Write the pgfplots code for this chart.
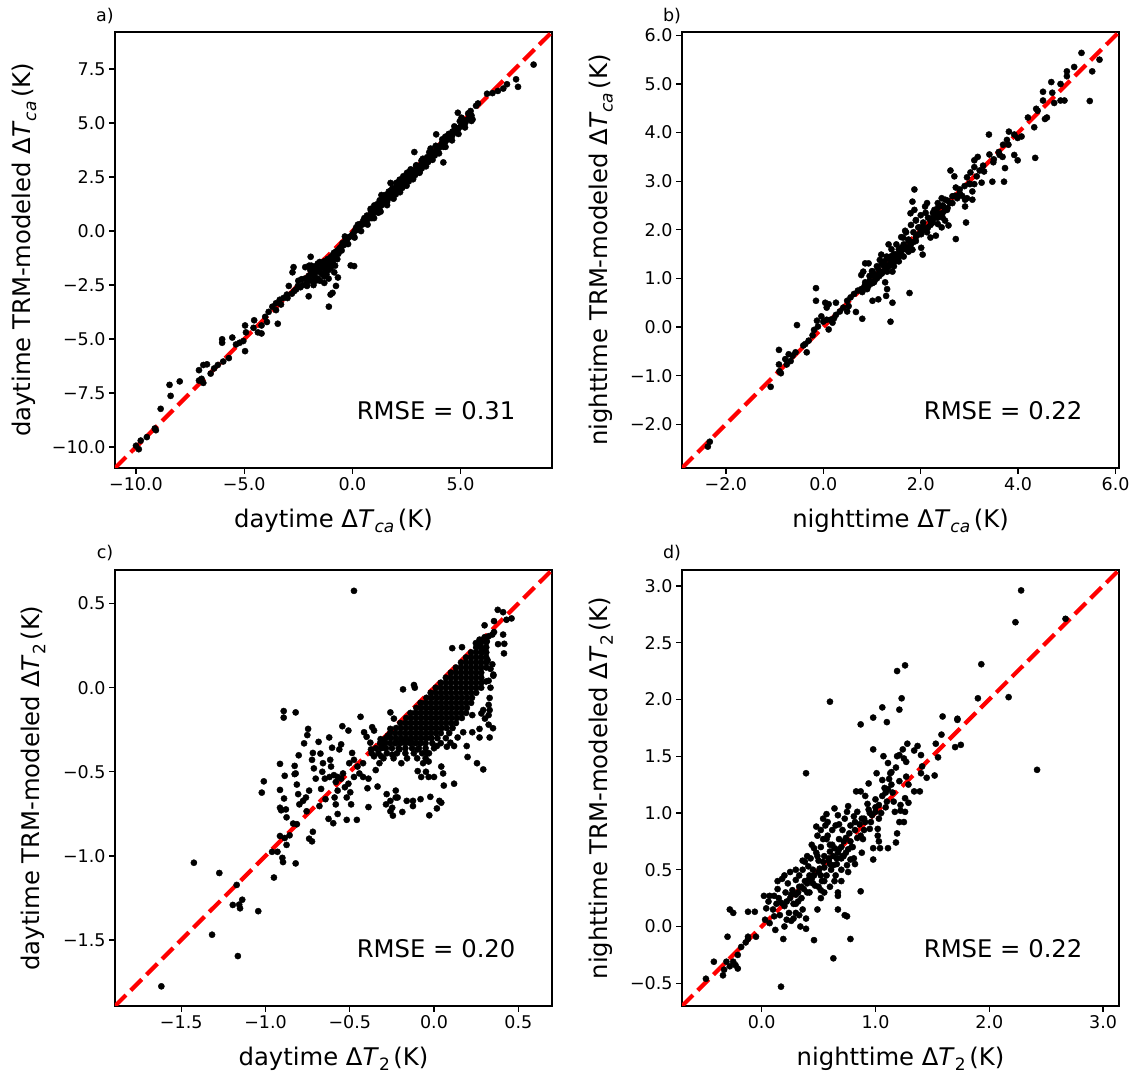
\documentclass[border=0pt]{standalone}
\usepackage{fontspec}
\setmainfont{DejaVu Sans}[ItalicFont={DejaVu Sans Oblique}]
\usepackage{pgfplots}
\pgfplotsset{compat=1.18}
\newcommand{\lf}{\fontsize{24.3}{29}\selectfont}
\newcommand{\tf}{\fontsize{17.5}{21}\selectfont}
\newcommand{\sub}[1]{\raisebox{-0.22em}{\fontsize{17}{17}\selectfont #1}}
\pgfplotsset{
  sc/.style={
    width=437pt, height=436pt, scale only axis, anchor=south west,
    axis line style={line width=1.36pt},
    every tick/.style={black, line width=1.36pt},
    major tick length=5.9pt,
    tick align=outside,
    xtick pos=left, ytick pos=left,
    tick label style={font=\tf},
    scaled ticks=false,
    xlabel style={font=\lf, at={(axis description cs:0.5,-0.094)}, anchor=north, inner sep=0pt},
    ylabel style={font=\lf, anchor=south, inner sep=0pt},
  },
  dots/.style={only marks, mark=*, mark size=3.1pt, mark options={fill=black, draw=none}},
  diag/.style={red, line width=4.2pt, dash pattern=on 15.5pt off 6.7pt, no marks},
}
\begin{document}
\begin{tikzpicture}[x=1pt,y=1pt]
\path[use as bounding box] (0pt,0pt) rectangle (1136pt,1076pt);
% ---------------- a ----------------
\begin{axis}[sc, at={(115pt,608pt)},
  xmin=-10.97, xmax=9.22, ymin=-10.97, ymax=9.22,
  xtick={-10,-5,0,5}, xticklabels={−10.0,−5.0,0.0,5.0},
  ytick={-10,-7.5,-5,-2.5,0,2.5,5,7.5}, yticklabels={−10.0,−7.5,−5.0,−2.5,0.0,2.5,5.0,7.5},
  xlabel={daytime Δ\textit{T}\sub{\textit{ca}}\hspace{0.15em}(K)},
  ylabel={daytime TRM-modeled Δ\textit{T}\sub{\textit{ca}}\hspace{0.15em}(K)},
  ylabel style={at={(axis description cs:-0.1796,0.5)}}]
\addplot[dots] coordinates {
(8.37,7.71) (7.56,7.03) (7.65,6.68) (7.14,6.80) (6.97,6.60) (6.72,6.49) (6.47,6.39) (6.22,6.36)
(5.80,5.91) (5.71,5.80) (5.46,5.56) (5.38,5.41) (5.55,5.17) (5.21,5.00) (5.04,5.25) (4.87,5.48)
(4.96,5.09) (4.71,4.85) (4.62,4.61) (4.45,4.45) (4.29,4.37) (3.87,4.48) (4.12,4.05) (4.20,3.18)
(3.87,3.66) (3.61,3.82) (2.86,3.66) (3.45,3.42) (3.19,3.26) (2.94,3.02) (2.69,2.86) (2.52,2.70)
(2.35,2.54) (2.18,2.38) (2.02,2.23) (1.76,2.23) (1.85,1.99) (1.68,1.83) (1.51,1.67) (1.34,1.67)
(1.26,1.43) (1.01,1.19) (0.84,1.03) (0.67,0.72) (0.50,0.48) (0.34,0.32) (0.17,0.16)
(-0.08,-1.59) (0.08,-1.62) (-0.84,-1.11) (-1.01,-1.43) (-0.84,-1.91) (-0.67,-2.15) (-0.76,-2.54)
(-0.92,-2.86) (-1.01,-2.94) (-1.09,-3.50) (-1.51,-1.43) (-1.68,-1.67) (-1.85,-1.91) (-2.02,-2.07)
(-1.93,-1.19) (-2.18,-1.67) (-2.72,-1.67) (-2.77,-1.91) (-2.35,-2.23) (-2.10,-2.54) (-2.02,-3.02)
(-2.52,-2.54) (-2.69,-2.78) (-2.94,-2.54) (-3.03,-2.94) (-3.19,-3.10) (-3.36,-3.18) (-3.53,-3.34)
(-3.70,-3.50) (-3.53,-3.66) (-3.87,-3.74) (-4.03,-3.97) (-3.45,-4.29) (-3.95,-4.21) (-4.20,-4.37)
(-4.54,-4.13) (-4.57,-4.48) (-4.37,-4.69) (-4.20,-4.74) (-4.96,-4.37) (-4.92,-4.69) (-5.04,-5.09)
(-5.21,-5.17) (-5.38,-5.25) (-4.96,-5.56) (-5.55,-4.93) (-6.02,-5.01) (-6.02,-5.17) (-5.71,-5.88)
(-5.97,-6.04) (-6.22,-6.20) (-6.39,-6.36) (-6.55,-6.60) (-6.72,-6.17) (-6.89,-6.20) (-7.09,-6.44)
(-7.09,-6.92) (-6.89,-7.03) (-6.97,-6.84) (-7.98,-6.96) (-8.45,-7.12) (-8.40,-7.63) (-8.86,-8.23)
(-9.08,-9.22) (-9.13,-9.14) (-9.78,-9.70) (-9.87,-10.10) (-10.00,-9.94) (-9.50,-9.54)
(-2.4,-2.6) (-2.3,-2.5) (-2.2,-2.2) (-2.1,-2.4) (-2.0,-2.2) (-1.95,-1.8) (-1.9,-2.3) (-1.85,-2.0)
(-1.8,-1.7) (-1.75,-2.1) (-1.7,-1.9) (-1.65,-1.6) (-1.6,-2.2) (-1.55,-1.8) (-1.5,-1.9) (-1.45,-1.5)
(-1.4,-2.0) (-1.35,-1.7) (-1.3,-1.4) (-1.25,-1.9) (-1.2,-1.6) (-1.15,-1.3) (-1.1,-1.8) (-1.05,-1.5)
(-1.0,-1.2) (-0.95,-1.35) (-0.9,-1.1) (-0.85,-1.0) (-0.8,-1.25) (-0.75,-0.95) (-0.7,-0.9) (-0.65,-1.05)
(-0.6,-0.8) (-0.55,-0.75) (-0.5,-0.7) (-0.45,-0.55) (-0.4,-0.65) (-0.35,-0.5) (-0.3,-0.45) (-0.25,-0.4)
(-0.2,-0.3) (-0.1,-0.25) (0.0,-0.15) (0.05,-0.2) (0.1,0.0) (0.2,0.05) (0.3,0.1) (0.35,0.25) (0.45,0.3)
(0.5,0.35) (0.6,0.4) (0.7,0.55) (0.8,0.6) (0.85,0.75) (0.95,0.8) (1.0,0.9) (1.1,0.95) (1.2,1.1)
(1.25,1.0) (1.35,1.2) (1.4,1.3) (1.5,1.35) (1.55,1.5) (1.65,1.5) (1.7,1.6) (1.8,1.65) (1.85,1.8)
(1.95,1.75) (2.0,1.9) (2.1,1.95) (2.15,2.1) (2.25,2.05) (2.3,2.2) (2.4,2.25) (2.45,2.4) (2.55,2.35)
(2.6,2.5) (2.7,2.5) (2.75,2.65) (2.85,2.7) (2.9,2.8) (3.0,2.85) (3.05,2.95) (3.15,3.0) (3.2,3.1)
(3.3,3.15) (3.35,3.25) (3.45,3.3) (3.5,3.4) (3.6,3.45) (3.7,3.55) (3.8,3.65) (3.9,3.75) (4.0,3.85)
(4.1,3.95) (4.2,4.05) (4.3,4.15) (4.4,4.25) (4.5,4.35) (4.6,4.4) (4.7,4.55) (4.8,4.65) (4.9,4.75)
(5.0,4.85) (5.1,4.95) (5.2,5.1) (5.3,5.15) (5.4,5.25) (5.5,5.35)
(1.6,1.35) (2.0,1.7) (2.3,2.0) (2.6,2.3) (2.9,2.6) (3.2,2.9) (3.5,3.2) (1.2,0.85) (0.9,0.6)
(2.8,2.45) (3.1,2.75) (3.8,3.5) (4.2,3.9)
(-1.6,-1.5) (-1.4,-1.6) (-1.3,-2.1) (-1.2,-2.0) (-1.5,-2.3) (-1.7,-2.3) (-1.1,-2.2) (-1.0,-1.7)
(-0.9,-1.5) (-0.8,-1.6) (-1.8,-2.5) (-1.3,-2.4) (-1.9,-1.6) (-2.0,-1.6) (-0.7,-1.3)
(-0.5,-0.9) (-0.2,-0.6) (0.1,-0.3) (0.4,0.0) (0.7,0.3) (1.0,0.6) (1.3,0.9) (1.6,1.2) (1.9,1.5)
(2.2,1.8) (2.5,2.1) (2.8,2.4) (3.1,2.7) (3.4,3.0) (3.7,3.3) (4.0,3.6) (4.3,3.9) (4.6,4.2) (4.9,4.5)
(5.2,4.8) (5.5,5.1)
(-0.35,-0.25) (0.25,0.3) (0.55,0.6) (0.85,0.95) (1.15,1.25) (1.45,1.55) (1.75,1.85) (2.05,2.15)
(2.35,2.45) (2.65,2.75) (2.95,3.05) (3.25,3.35) (3.55,3.65) (3.85,3.95) (4.15,4.25) (4.45,4.5)
(4.75,4.8) (5.05,5.1) (5.35,5.45)
(-2.6,-2.7) (-2.8,-2.9) (-3.0,-3.1) (-3.3,-3.4) (-2.5,-2.3)
};
\addplot[diag] coordinates {(-10.97,-10.97) (9.22,9.22)};
\node[anchor=base west, inner sep=0pt, font=\lf] at (axis description cs:0.553,0.112) {RMSE = 0.31};
\end{axis}
% ---------------- b ----------------
\begin{axis}[sc, at={(682pt,608pt)},
  xmin=-2.90, xmax=6.07, ymin=-2.90, ymax=6.07,
  xtick={-2,0,2,4,6}, xticklabels={−2.0,0.0,2.0,4.0,6.0},
  ytick={-2,-1,0,1,2,3,4,5,6}, yticklabels={−2.0,−1.0,0.0,1.0,2.0,3.0,4.0,5.0,6.0},
  xlabel={nighttime Δ\textit{T}\sub{\textit{ca}}\hspace{0.15em}(K)},
  ylabel={nighttime TRM-modeled Δ\textit{T}\sub{\textit{ca}}\hspace{0.15em}(K)},
  ylabel style={at={(axis description cs:-0.158,0.5)}}]
\addplot[dots] coordinates {
(5.30,5.64) (5.67,5.50) (5.15,5.35) (5.00,5.26) (5.00,5.16) (5.52,5.26) (4.68,5.04) (4.87,5.00)
(4.51,4.84) (4.70,4.82) (4.51,4.66) (4.74,4.61) (4.87,4.66) (4.95,4.66) (5.47,4.65) (4.37,4.49)
(4.40,4.45) (4.59,4.31) (4.55,4.28) (4.20,4.31) (4.33,4.11) (4.35,3.48) (4.07,3.92) (3.99,3.89)
(3.92,3.96) (3.81,4.02) (3.77,3.85) (3.69,3.75) (3.40,3.96) (3.92,3.54) (3.99,3.43) (3.68,3.50)
(3.73,3.27) (3.71,2.99) (3.47,2.99) (3.62,3.54) (3.41,3.55) (3.49,3.39) (3.28,3.32) (3.17,3.50)
(3.10,3.43) (3.10,3.29) (3.21,3.22) (3.02,3.18) (2.95,3.08) (3.25,2.97) (3.10,2.94) (3.01,2.94)
(3.06,2.79) (2.95,2.65) (3.06,2.62) (2.91,2.62) (2.91,2.48) (2.93,2.15) (2.80,2.83) (2.72,2.87)
(2.61,3.22) (2.69,3.10) (2.72,1.81) (2.65,2.69) (2.50,2.62) (2.43,2.65) (2.35,2.55) (2.46,2.48)
(2.54,2.41) (2.35,2.34) (2.28,2.41) (2.20,2.19) (2.35,2.12) (2.50,2.19) (2.57,2.09) (2.43,2.05)
(2.31,1.88) (2.20,1.84) (2.13,1.95) (2.09,2.48) (2.13,2.55) (1.87,2.83) (1.83,2.58) (1.87,2.41)
(1.79,2.34) (1.90,2.19) (1.98,2.05) (2.01,1.91) (1.90,1.77) (2.01,1.63) (2.04,1.49) (1.83,1.59)
(1.75,1.77) (1.64,1.84) (1.68,1.98) (1.60,1.63) (1.49,1.49) (1.57,1.56) (1.46,1.35) (1.38,1.45)
(1.34,1.70) (1.34,1.28) (1.42,1.14) (1.31,1.14) (1.23,1.28) (1.19,1.49) (1.16,1.38) (1.12,1.21)
(1.08,1.07) (1.04,0.92) (1.27,0.92) (1.31,0.78) (1.23,1.14) (1.01,1.14) (0.93,1.31) (0.86,1.31)
(0.82,1.14) (0.78,1.07) (0.86,0.92) (0.93,0.85) (0.90,0.78) (0.78,0.78) (0.71,0.75) (0.63,0.68)
(0.56,0.61) (0.49,0.54) (0.52,0.43) (0.41,0.40) (0.49,0.32) (0.67,0.31) (0.80,0.17) (1.01,0.54)
(1.13,0.57) (1.38,0.11) (1.42,0.50) (1.29,0.64) (1.77,0.70) (0.34,0.32) (0.26,0.25) (0.22,0.18)
(0.26,0.50) (0.11,0.47) (0.04,0.50) (0.07,0.40) (-0.15,0.80) (-0.15,0.54) (-0.13,0.13) (-0.04,0.22)
(0.00,0.11) (0.07,0.15) (0.15,0.15) (0.19,0.09) (0.11,-0.05) (-0.11,0.01) (-0.19,-0.06) (-0.22,-0.17)
(-0.30,-0.28) (-0.37,-0.35) (-0.34,-0.52) (-0.41,-0.38) (-0.54,0.04) (-0.57,-0.52) (-0.63,-0.59)
(-0.67,-0.70) (-0.71,-0.56) (-0.75,-0.77) (-0.78,-0.66) (-0.91,-0.47) (-0.91,-0.77) (-0.87,-0.95)
(-0.90,-0.91) (-1.08,-1.23) (-2.33,-2.36) (-2.37,-2.46)
(0.80,0.72) (0.85,0.85) (0.90,0.80) (0.95,0.95) (1.00,0.90) (1.05,1.05) (1.10,1.00) (1.15,1.15)
(1.20,1.10) (1.25,1.25) (1.30,1.20) (1.35,1.40) (1.40,1.30) (1.45,1.50) (1.50,1.40) (1.55,1.60)
(1.60,1.50) (1.65,1.70) (1.70,1.60) (1.75,1.80) (1.80,1.70) (1.85,1.95) (1.90,1.85) (1.95,2.05)
(2.00,1.95) (2.05,2.15) (2.10,2.00) (2.15,2.25) (2.20,2.10) (2.25,2.35) (2.30,2.25) (2.35,2.45)
(2.40,2.30) (2.45,2.50) (2.50,2.40) (2.55,2.60) (2.60,2.55) (2.70,2.70) (2.80,2.75) (2.90,2.90)
(3.00,2.95) (1.20,1.30) (1.30,1.45) (1.40,1.60) (1.50,1.70) (1.60,1.85) (1.70,1.95) (1.80,2.10)
(1.90,2.20) (2.00,2.30) (2.10,2.35) (1.10,1.25) (1.00,1.15) (1.45,1.25) (1.55,1.35) (1.65,1.45)
(1.75,1.55) (2.25,2.15) (2.45,2.25)
(0.95,1.05) (1.05,0.95) (1.15,1.05) (1.25,1.35) (1.35,1.25) (1.45,1.40) (1.55,1.45) (1.65,1.60)
(1.75,1.65) (1.85,1.75) (1.95,1.90) (2.05,2.05) (2.15,2.05) (2.25,2.25) (2.35,2.25) (2.45,2.35)
(2.55,2.45) (2.65,2.55) (2.75,2.65) (2.85,2.70) (3.15,3.10) (3.30,3.20) (3.50,3.45) (3.60,3.60)
(3.80,3.75)
};
\addplot[diag] coordinates {(-2.90,-2.90) (6.07,6.07)};
\node[anchor=base west, inner sep=0pt, font=\lf] at (axis description cs:0.553,0.112) {RMSE = 0.22};
\end{axis}
% ---------------- c ----------------
\begin{axis}[sc, at={(115pt,70pt)},
  xmin=-1.893, xmax=0.70, ymin=-1.893, ymax=0.70,
  xtick={-1.5,-1,-0.5,0,0.5}, xticklabels={−1.5,−1.0,−0.5,0.0,0.5},
  ytick={-1.5,-1,-0.5,0,0.5}, yticklabels={−1.5,−1.0,−0.5,0.0,0.5},
  xlabel={daytime Δ\textit{T}\sub{2}\hspace{0.15em}(K)},
  ylabel={daytime TRM-modeled Δ\textit{T}\sub{2}\hspace{0.15em}(K)},
  ylabel style={at={(axis description cs:-0.159,0.5)}}]
\addplot[dots] coordinates {
(-0.475,0.576) (0.378,0.463) (0.41,0.449) (0.46,0.412) (0.43,0.404) (0.356,0.396) (0.30,0.371)
(0.356,0.331) (0.41,0.316) (0.346,0.316) (0.324,0.306) (0.417,0.261) (0.38,0.259) (0.415,0.204)
(0.27,0.286) (0.248,0.265) (0.313,0.276) (0.108,0.235) (0.166,0.241) (0.346,0.139) (0.352,0.078)
(0.309,0.037) (0.33,-0.061) (0.324,-0.102) (0.292,-0.133) (0.35,-0.241) (0.33,-0.296) (0.27,-0.296)
(0.227,-0.163) (0.194,-0.347) (0.199,-0.412) (0.255,-0.449) (0.292,-0.486) (0.119,-0.347)
(0.076,-0.351) (0.043,-0.469) (0.054,-0.51) (0.119,-0.571) (0.058,-0.582) (0.043,-0.684)
(0.032,-0.673) (0.017,-0.718) (-0.022,-0.649) (-0.028,-0.759) (-0.08,-0.663) (-0.125,-0.704)
(-0.125,-0.673) (-0.162,-0.673) (-0.188,-0.739) (-0.216,-0.653) (-0.244,-0.761) (-0.248,-0.714)
(-0.259,-0.735) (-0.227,-0.612) (-0.227,-0.653) (-0.281,-0.633) (-0.285,-0.694) (-0.259,-0.673)
(-0.335,-0.588) (-0.389,-0.71) (-0.492,-0.694) (-0.518,-0.786) (-0.458,-0.786) (-0.395,-0.598)
(-0.572,-0.751) (-0.598,-0.806) (-0.626,-0.78) (-0.583,-0.694) (-0.59,-0.653) (-0.644,-0.663)
(-0.68,-0.704) (-0.719,-0.857) (-0.724,-0.914) (-0.741,-0.898) (-0.756,-0.735) (-0.741,-0.612)
(-0.76,-0.653) (-0.777,-0.673) (-0.799,-0.694) (-0.806,-0.633) (-0.814,-0.576) (-0.821,-0.51)
(-0.827,-0.465) (-0.803,-0.402) (-0.771,-0.331) (-0.752,-0.282) (-0.747,-0.245) (-0.724,-0.429)
(-0.713,-0.48) (-0.702,-0.541) (-0.67,-0.602) (-0.836,-0.808) (-0.814,-0.812) (-0.875,-0.771)
(-0.879,-0.724) (-0.857,-0.878) (-0.875,-0.935) (-0.886,-0.894) (-0.914,-0.882) (-0.821,-1.045)
(-0.896,-1.037) (-0.9,-1.012) (-0.929,-0.976) (-0.961,-0.976) (-0.95,-1.129) (-0.914,-0.714)
(-0.907,-0.729) (-0.914,-0.608) (-0.914,-0.453) (-0.89,-0.659) (-0.886,-0.524) (-0.827,-0.514)
(-1.01,-0.557) (-1.022,-0.624) (-0.892,-0.139) (-0.892,-0.178) (-0.821,-0.147) (-1.043,-1.329)
(-1.156,-1.29) (-1.151,-1.312) (-1.194,-1.292) (-1.171,-1.173) (-1.138,-1.261) (-1.274,-1.102)
(-1.425,-1.041) (-1.317,-1.469) (-1.164,-1.596) (-1.618,-1.776)
(-0.685,-0.322) (-0.719,-0.388) (-0.674,-0.392) (-0.659,-0.449) (-0.663,-0.5) (-0.622,-0.296)
(-0.616,-0.429) (-0.605,-0.357) (-0.562,-0.367) (-0.551,-0.337) (-0.544,-0.229) (-0.508,-0.255)
(-0.62,-0.531) (-0.594,-0.52) (-0.572,-0.531) (-0.551,-0.541) (-0.54,-0.51) (-0.583,-0.561)
(-0.529,-0.592) (-0.572,-0.612) (-0.508,-0.571) (-0.497,-0.622) (-0.518,-0.653) (-0.611,-0.469)
(-0.648,-0.541) (-0.503,-0.449) (-0.475,-0.429) (-0.486,-0.388) (-0.475,-0.531) (-0.443,-0.51)
(-0.454,-0.469) (-0.421,-0.449) (-0.421,-0.531) (-0.389,-0.541) (-0.436,-0.173) (-0.415,-0.265)
(-0.4,-0.292) (-0.378,-0.327) (-0.374,-0.367) (-0.356,-0.408) (-0.346,-0.49) (-0.324,-0.449)
(-0.313,-0.408) (-0.302,-0.357) (-0.292,-0.327) (-0.317,-0.306) (-0.356,-0.255) (-0.367,-0.235)
(-0.274,-0.286) (-0.259,-0.245) (-0.259,-0.147) (-0.238,-0.184) (-0.227,-0.327) (-0.248,-0.398)
(-0.205,-0.367) (-0.194,-0.449) (-0.184,-0.01) (-0.119,0.016) (-0.114,0) (-0.194,-0.316)
(-0.14,-0.316) (-0.097,-0.367) (-0.065,-0.449) (-0.032,-0.439) (-0.043,-0.388) (-0.097,-0.496)
(-0.048,-0.5) (-0.032,-0.531) (-0.076,-0.531) (0,-0.531) (0.017,-0.347) (0.097,-0.327)
(0.14,-0.296) (0.173,-0.265) (0.227,-0.265) (0.27,-0.245) (0.324,-0.22) (0.302,-0.184)
(0.281,-0.153) (0.324,-0.163) (0.33,-0.133) (0.335,0) (0.324,0.041) (0.352,0.071) (0.335,0.112)
(0.318,0.163) (0.292,0.214) (0.27,0.245)
(0.30,0.30) (0.28,0.27) (0.31,0.27) (0.25,0.24) (0.28,0.24) (0.31,0.24)
(0.22,0.21) (0.25,0.21) (0.28,0.21) (0.31,0.21)
(0.19,0.18) (0.22,0.18) (0.25,0.18) (0.28,0.18) (0.31,0.18)
(0.16,0.15) (0.19,0.15) (0.22,0.15) (0.25,0.15) (0.28,0.15) (0.31,0.15)
(0.13,0.12) (0.16,0.12) (0.19,0.12) (0.22,0.12) (0.25,0.12) (0.28,0.12) (0.31,0.12)
(0.10,0.09) (0.13,0.09) (0.16,0.09) (0.19,0.09) (0.22,0.09) (0.25,0.09) (0.28,0.09)
(0.07,0.06) (0.10,0.06) (0.13,0.06) (0.16,0.06) (0.19,0.06) (0.22,0.06) (0.25,0.06) (0.28,0.06)
(0.04,0.03) (0.07,0.03) (0.10,0.03) (0.13,0.03) (0.16,0.03) (0.19,0.03) (0.22,0.03) (0.25,0.03) (0.28,0.03)
(0.01,0.00) (0.04,0.00) (0.07,0.00) (0.10,0.00) (0.13,0.00) (0.16,0.00) (0.19,0.00) (0.22,0.00) (0.25,0.00) (0.28,0.00)
(-0.02,-0.03) (0.01,-0.03) (0.04,-0.03) (0.07,-0.03) (0.10,-0.03) (0.13,-0.03) (0.16,-0.03) (0.19,-0.03) (0.22,-0.03) (0.25,-0.03)
(-0.045,-0.06) (-0.015,-0.06) (0.015,-0.06) (0.045,-0.06) (0.075,-0.06) (0.105,-0.06) (0.135,-0.06) (0.165,-0.06) (0.195,-0.06) (0.225,-0.06)
(-0.08,-0.09) (-0.05,-0.09) (-0.02,-0.09) (0.01,-0.09) (0.04,-0.09) (0.07,-0.09) (0.10,-0.09) (0.13,-0.09) (0.16,-0.09) (0.19,-0.09) (0.22,-0.09)
(-0.105,-0.12) (-0.075,-0.12) (-0.045,-0.12) (-0.015,-0.12) (0.015,-0.12) (0.045,-0.12) (0.075,-0.12) (0.105,-0.12) (0.135,-0.12) (0.165,-0.12) (0.195,-0.12)
(-0.14,-0.15) (-0.11,-0.15) (-0.08,-0.15) (-0.05,-0.15) (-0.02,-0.15) (0.01,-0.15) (0.04,-0.15) (0.07,-0.15) (0.10,-0.15) (0.13,-0.15) (0.16,-0.15) (0.19,-0.15)
(-0.165,-0.18) (-0.135,-0.18) (-0.105,-0.18) (-0.075,-0.18) (-0.045,-0.18) (-0.015,-0.18) (0.015,-0.18) (0.045,-0.18) (0.075,-0.18) (0.105,-0.18) (0.135,-0.18) (0.165,-0.18)
(-0.20,-0.21) (-0.17,-0.21) (-0.14,-0.21) (-0.11,-0.21) (-0.08,-0.21) (-0.05,-0.21) (-0.02,-0.21) (0.01,-0.21) (0.04,-0.21) (0.07,-0.21) (0.10,-0.21) (0.13,-0.21)
(-0.225,-0.24) (-0.195,-0.24) (-0.165,-0.24) (-0.135,-0.24) (-0.105,-0.24) (-0.075,-0.24) (-0.045,-0.24) (-0.015,-0.24) (0.015,-0.24) (0.045,-0.24) (0.075,-0.24) (0.11,-0.24)
(-0.26,-0.27) (-0.23,-0.27) (-0.20,-0.27) (-0.17,-0.27) (-0.14,-0.27) (-0.11,-0.27) (-0.08,-0.27) (-0.05,-0.27) (-0.02,-0.27) (0.01,-0.27) (0.04,-0.27) (0.09,-0.27)
(-0.285,-0.30) (-0.255,-0.30) (-0.225,-0.30) (-0.195,-0.30) (-0.165,-0.30) (-0.135,-0.30) (-0.105,-0.30) (-0.075,-0.30) (-0.045,-0.30) (-0.015,-0.30) (0.02,-0.30) (0.07,-0.30)
(-0.32,-0.33) (-0.29,-0.33) (-0.26,-0.33) (-0.23,-0.33) (-0.20,-0.33) (-0.17,-0.33) (-0.14,-0.33) (-0.11,-0.33) (-0.08,-0.33) (-0.05,-0.33) (-0.01,-0.33) (0.04,-0.33)
(-0.345,-0.36) (-0.315,-0.36) (-0.285,-0.36) (-0.25,-0.36) (-0.21,-0.36) (-0.17,-0.36) (-0.13,-0.36) (-0.09,-0.36) (-0.05,-0.36) (0.0,-0.36)
(-0.37,-0.39) (-0.33,-0.39) (-0.28,-0.39) (-0.22,-0.39) (-0.17,-0.39) (-0.12,-0.39) (-0.07,-0.39) (-0.03,-0.39)
(-0.30,-0.42) (-0.24,-0.42) (-0.16,-0.42) (-0.10,-0.42) (-0.05,-0.42)
};
\addplot[diag] coordinates {(-1.893,-1.893) (0.70,0.70)};
\node[anchor=base west, inner sep=0pt, font=\lf] at (axis description cs:0.553,0.112) {RMSE = 0.20};
\end{axis}
% ---------------- d ----------------
\begin{axis}[sc, at={(682pt,70pt)},
  xmin=-0.70, xmax=3.14, ymin=-0.70, ymax=3.14,
  xtick={0,1,2,3}, xticklabels={0.0,1.0,2.0,3.0},
  ytick={-0.5,0,0.5,1,1.5,2,2.5,3}, yticklabels={−0.5,0.0,0.5,1.0,1.5,2.0,2.5,3.0},
  xlabel={nighttime Δ\textit{T}\sub{2}\hspace{0.15em}(K)},
  ylabel={nighttime TRM-modeled Δ\textit{T}\sub{2}\hspace{0.15em}(K)},
  ylabel style={at={(axis description cs:-0.158,0.5)}}]
\addplot[dots] coordinates {
(2.28,2.96) (2.23,2.68) (2.67,2.71) (1.93,2.31) (1.90,2.01) (2.17,2.02) (2.42,1.38) (1.19,2.25)
(1.26,2.30) (1.23,2.01) (1.21,1.91) (0.60,1.98) (1.06,1.93) (0.98,1.84) (1.10,1.80) (0.87,1.78)
(1.59,1.85) (1.72,1.83) (1.72,1.82) (1.58,1.69) (1.70,1.58) (1.75,1.60) (1.53,1.61) (1.55,1.49)
(1.52,1.33) (1.45,1.31) (1.40,1.35) (1.41,1.41) (1.40,1.51) (1.37,1.59) (1.34,1.55) (1.28,1.61)
(1.24,1.56) (1.21,1.51) (1.25,1.48) (1.27,1.45) (1.19,1.50) (1.07,1.50) (0.98,1.56) (1.11,1.44)
(1.13,1.35) (1.14,1.36) (1.01,1.35) (1.14,1.25) (1.11,1.21) (1.08,1.22) (1.09,1.18) (1.06,1.29)
(1.21,1.28) (1.27,1.32) (1.29,1.25) (1.39,1.19) (1.34,1.19) (1.26,1.13) (1.22,1.07) (1.29,1.09)
(1.22,1.02) (1.26,1.01) (1.16,1.10) (1.17,1.01) (1.21,0.92) (1.25,0.92) (1.19,0.82) (1.18,0.74)
(1.11,0.69) (1.04,0.69) (1.03,0.75) (0.98,0.69) (0.98,0.59) (0.87,0.31) (1.10,1.10) (1.03,1.07)
(1.00,1.01) (0.97,0.98) (0.94,1.03) (0.91,1.15) (0.94,1.26) (0.87,1.19) (0.83,1.19) (0.91,0.92)
(0.95,0.86) (1.02,0.86) (1.02,0.80) (0.89,0.77) (0.87,0.80) (0.84,1.01) (0.81,0.97) (0.78,0.89)
(0.75,1.01) (0.76,1.06) (0.73,0.95) (0.71,0.85) (0.68,0.77) (0.67,0.98) (0.65,0.89) (0.64,1.04)
(0.57,0.99) (0.54,0.95) (0.56,0.89) (0.52,0.85) (0.49,0.80) (0.54,0.77) (0.57,0.77) (0.60,0.72)
(0.64,0.69) (0.67,0.65) (0.71,0.62) (0.78,0.59) (0.81,0.60) (0.75,0.54) (0.63,0.54) (0.59,0.60)
(0.54,0.57) (0.51,0.51) (0.49,0.62) (0.46,0.69) (0.43,0.60) (0.41,0.53) (0.46,0.45) (0.41,0.41)
(0.38,0.57) (0.36,0.50) (0.33,0.45) (0.30,0.41) (0.33,0.35) (0.27,0.32) (0.30,0.50) (0.23,0.38)
(0.21,0.30) (0.22,0.22) (0.17,0.21) (0.18,0.42) (0.14,0.33) (0.15,0.25) (0.11,0.27) (0.06,0.22)
(0.02,0.27) (0.07,0.27) (0.04,0.16) (0.03,0.06) (0.07,0.03) (0.11,0.09) (0.12,-0.03) (0.19,-0.11)
(0.17,-0.53) (0.20,0.00) (0.22,0.06) (0.28,0.07) (0.33,0.10) (0.36,0.15) (0.39,0.07) (0.39,-0.02)
(0.46,-0.12) (0.49,0.15) (0.52,0.25) (0.55,0.30) (0.52,0.32) (0.67,0.30) (0.67,0.27) (0.67,0.15)
(0.73,0.10) (0.75,0.09) (0.78,-0.11) (0.63,-0.28) (0.39,1.35) (-0.12,0.13) (-0.06,0.13) (-0.12,-0.09)
(-0.12,-0.11) (-0.05,-0.09) (-0.30,-0.09) (-0.28,0.15) (-0.25,0.12) (-0.18,-0.18) (-0.21,-0.25)
(-0.21,-0.37) (-0.23,-0.34) (-0.25,-0.31) (-0.31,-0.31) (-0.33,-0.38) (-0.34,-0.43) (-0.42,-0.31)
(-0.49,-0.46) (-0.28,-0.35) (-0.14,-0.14)
(0.45,0.50) (0.50,0.58) (0.55,0.62) (0.60,0.66) (0.62,0.72) (0.58,0.80) (0.48,0.65) (0.42,0.45)
(0.38,0.40) (0.35,0.35) (0.30,0.28) (0.25,0.25) (0.45,0.38) (0.52,0.45) (0.60,0.55) (0.66,0.60)
(0.70,0.70) (0.74,0.78) (0.78,0.75) (0.82,0.85) (0.86,0.90) (0.90,0.95) (0.95,1.00) (1.00,1.05)
(1.05,1.00) (0.55,0.40) (0.50,0.35) (0.40,0.30) (0.28,0.20) (0.32,0.22) (0.65,0.45) (0.70,0.50)
(0.72,0.62) (0.76,0.68) (0.80,0.70)
(0.10,0.15) (0.13,0.20) (0.16,0.10) (0.20,0.18) (0.24,0.12) (0.26,0.28) (0.30,0.20) (0.32,0.30)
(0.35,0.25) (0.37,0.33) (0.40,0.38) (0.42,0.30) (0.44,0.42) (0.47,0.36) (0.50,0.48) (0.53,0.40)
(0.55,0.52) (0.57,0.45) (0.59,0.58) (0.61,0.50) (0.63,0.62) (0.66,0.55) (0.68,0.68) (0.70,0.60)
(0.72,0.75) (0.74,0.65) (0.77,0.82) (0.79,0.70) (0.82,0.92) (0.84,0.78) (0.88,0.95) (0.90,0.85)
(0.93,1.08) (0.96,0.92) (1.00,1.12) (1.03,0.95) (1.06,1.15) (1.09,1.05) (1.12,1.30) (1.15,1.18)
(1.18,1.40) (0.36,0.58) (0.40,0.62) (0.44,0.72) (0.48,0.88) (0.52,0.70) (0.58,0.92) (0.62,0.85)
(0.68,0.90) (0.60,0.35) (0.64,0.40) (0.70,0.40) (0.76,0.48) (0.82,0.55) (0.88,0.65) (0.26,0.05)
(0.30,0.12) (0.34,0.00) (0.14,0.40) (0.20,0.45) (0.25,0.48)
};
\addplot[diag] coordinates {(-0.70,-0.70) (3.14,3.14)};
\node[anchor=base west, inner sep=0pt, font=\lf] at (axis description cs:0.553,0.112) {RMSE = 0.22};
\end{axis}
\node[font=\tf] at (105pt,1060pt) {a)};
\node[font=\tf] at (672pt,1060pt) {b)};
\node[font=\tf] at (105pt,523pt) {c)};
\node[font=\tf] at (672pt,523pt) {d)};
\end{tikzpicture}
\end{document}
